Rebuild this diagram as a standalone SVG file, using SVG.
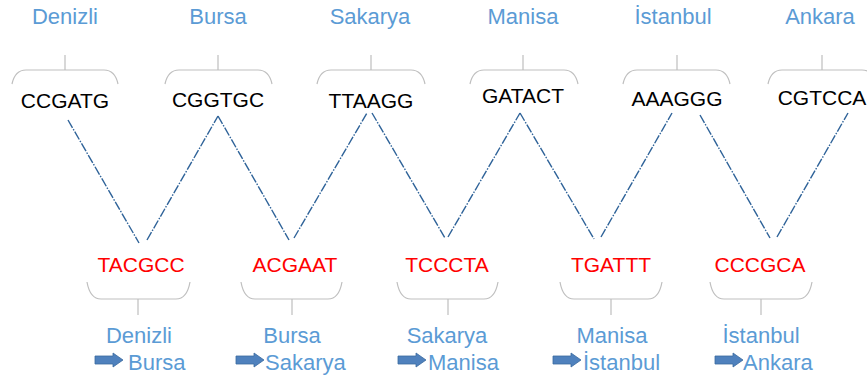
<svg xmlns="http://www.w3.org/2000/svg" width="867" height="382" viewBox="0 0 867 382">
<defs>
<style>
.city{font-family:"Liberation Sans",Arial,sans-serif;font-size:22px;fill:#5B9BD5}
.seq{font-family:"Liberation Sans",Arial,sans-serif;font-size:21px;fill:#000}
.red{font-family:"Liberation Sans",Arial,sans-serif;font-size:21px;fill:#FF0000}
.br{fill:none;stroke:#BFBFBF;stroke-width:1.2}
.ln{fill:none;stroke:#2F6399;stroke-width:1.4;stroke-dasharray:9 1.5 1.5 1.5}
.arr{fill:#4F81BD;stroke:#3A6A9E;stroke-width:0.8}
</style>
<path id="ar" d="M0,-4 H18 V-7 L28,0 L18,7 V4 H0 Z"/>
</defs>
<rect width="867" height="382" fill="#fff"/>

<g id="top-labels">
<text class="city" x="65" y="24" text-anchor="middle">Denizli</text>
<text class="city" x="218" y="24" text-anchor="middle">Bursa</text>
<text class="city" x="370" y="24" text-anchor="middle">Sakarya</text>
<text class="city" x="523" y="24" text-anchor="middle">Manisa</text>
<text class="city" x="673" y="24" text-anchor="middle">İstanbul</text>
<text class="city" x="820" y="24" text-anchor="middle">Ankara</text>
</g>

<g id="top-denizli">
<path class="br" d="M12,84 Q15,70 26,70 H104 Q115,70 118,84 M65,70 V55"/>
<text class="seq" x="65" y="108" text-anchor="middle">CCGATG</text>
</g>
<g id="top-bursa">
<path class="br" d="M165,84 Q168,70 179,70 H258 Q269,70 272,84 M218,70 V55"/>
<text class="seq" x="218" y="107" text-anchor="middle">CGGTGC</text>
</g>
<g id="top-sakarya">
<path class="br" d="M317,84 Q320,70 331,70 H411 Q422,70 425,84 M371,70 V55"/>
<text class="seq" x="371" y="108" text-anchor="middle">TTAAGG</text>
</g>
<g id="top-manisa">
<path class="br" d="M470,84 Q473,70 484,70 H564 Q575,70 578,84 M523,70 V55"/>
<text class="seq" x="523" y="103" text-anchor="middle">GATACT</text>
</g>
<g id="top-istanbul">
<path class="br" d="M623,84 Q626,70 637,70 H716 Q727,70 730,84 M677,70 V55"/>
<text class="seq" x="677" y="106" text-anchor="middle">AAAGGG</text>
</g>
<g id="top-ankara">
<path class="br" d="M768,84 Q771,70 782,70 H862 Q873,70 876,84 M822,70 V55"/>
<text class="seq" x="822" y="105" text-anchor="middle">CGTCCA</text>
</g>

<g id="connectors">
<line class="ln" x1="68" y1="120" x2="139" y2="243"/>
<line class="ln" x1="147" y1="240" x2="218" y2="116"/>
<line class="ln" x1="218" y1="116" x2="289" y2="240"/>
<line class="ln" x1="294" y1="238" x2="367" y2="113"/>
<line class="ln" x1="372" y1="113" x2="445" y2="238"/>
<line class="ln" x1="448" y1="237" x2="520" y2="113"/>
<line class="ln" x1="520" y1="113" x2="594" y2="239"/>
<line class="ln" x1="601" y1="237" x2="672" y2="113"/>
<line class="ln" x1="700" y1="115" x2="770" y2="238"/>
<line class="ln" x1="777" y1="237" x2="848" y2="113"/>
</g>

<g id="bot-1">
<text class="red" x="141" y="272" text-anchor="middle">TACGCC</text>
<path class="br" d="M87,282 Q90,299 101,299 H176 Q187,299 190,282 M138,299 V315"/>
<text class="city" x="139" y="343" text-anchor="middle">Denizli</text>
<use href="#ar" class="arr" x="95" y="360"/>
<text class="city" x="128" y="370">Bursa</text>
</g>
<g id="bot-2">
<text class="red" x="295" y="272" text-anchor="middle">ACGAAT</text>
<path class="br" d="M241,282 Q244,299 255,299 H328 Q339,299 342,282 M292,299 V315"/>
<text class="city" x="292" y="343" text-anchor="middle">Bursa</text>
<use href="#ar" class="arr" x="236" y="360"/>
<text class="city" x="265" y="370">Sakarya</text>
</g>
<g id="bot-3">
<text class="red" x="447" y="272" text-anchor="middle">TCCCTA</text>
<path class="br" d="M397,282 Q400,299 411,299 H484 Q495,299 498,282 M448,299 V315"/>
<text class="city" x="447" y="343" text-anchor="middle">Sakarya</text>
<use href="#ar" class="arr" x="398" y="360"/>
<text class="city" x="428" y="370">Manisa</text>
</g>
<g id="bot-4">
<text class="red" x="611" y="272" text-anchor="middle">TGATTT</text>
<path class="br" d="M560,282 Q563,299 574,299 H648 Q659,299 662,282 M611,299 V315"/>
<text class="city" x="612" y="343" text-anchor="middle">Manisa</text>
<use href="#ar" class="arr" x="553" y="360"/>
<text class="city" x="583" y="370">İstanbul</text>
</g>
<g id="bot-5">
<text class="red" x="760" y="272" text-anchor="middle">CCCGCA</text>
<path class="br" d="M710,282 Q713,299 724,299 H798 Q809,299 812,282 M761,299 V315"/>
<text class="city" x="761" y="343" text-anchor="middle">İstanbul</text>
<use href="#ar" class="arr" x="715" y="360"/>
<text class="city" x="743" y="370">Ankara</text>
</g>
</svg>
